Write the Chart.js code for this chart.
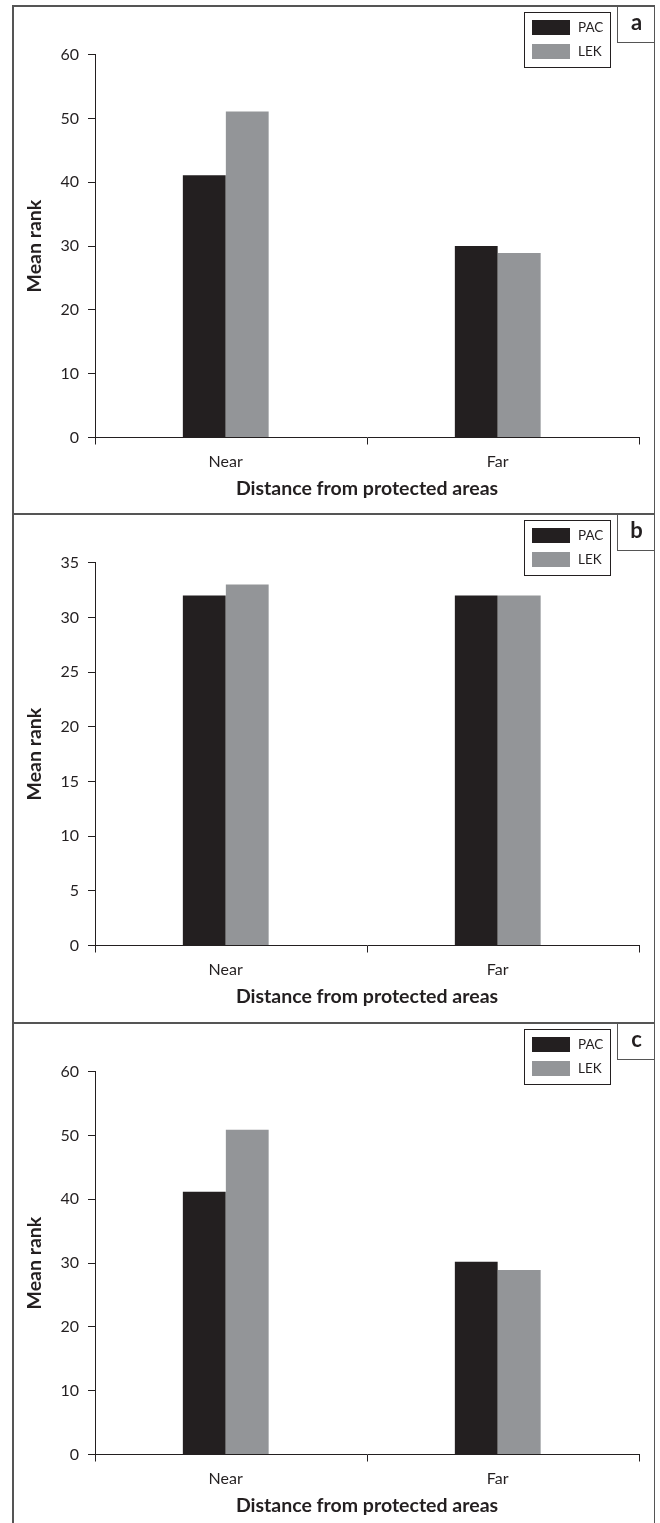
<!DOCTYPE html>
<html>
<head>
<meta charset="utf-8">
<script src="https://cdn.jsdelivr.net/npm/chart.js@4.4.1/dist/chart.umd.min.js"></script>
<style>
body{margin:0;background:#fff;font-family:Lato,sans-serif;color:#231f20;}
#fig{position:relative;width:660px;height:1523px;overflow:hidden;}
.cv{position:absolute;left:0;width:660px;height:508px;}
.line{position:absolute;background:#555;}
.legend{position:absolute;left:524px;width:85px;height:54px;border:1px solid #231f20;background:#fff;}
.legend .sw{position:absolute;left:7px;width:38px;height:15px;}
.legend .tx{position:absolute;left:53px;font-size:13.5px;line-height:15px;}
.tag{position:absolute;left:617px;width:37px;height:37px;border-left:1px solid #555;border-bottom:1px solid #555;background:#fff;
  font-weight:bold;font-size:22px;text-align:center;line-height:34px;}
</style>
</head>
<body>
<div id="fig"></div>
<script>
// data
const categories = ["Near", "Far"];
const seriesNames = ["PAC", "LEK"];
const seriesColors = ["#231f20", "#939598"];

const pacA = [41.1, 30.0];
const lekA = [51.1, 28.9];
const pacB = [32, 32];
const lekB = [33, 32];
const pacC = [41.2, 30.2];
const lekC = [50.9, 28.9];

const ticksA = [0, 10, 20, 30, 40, 50, 60];
const ticksB = [0, 5, 10, 15, 20, 25, 30, 35];
const ticksC = [0, 10, 20, 30, 40, 50, 60];

const panelLetters = ["a", "b", "c"];
const panelTops = [5, 513, 1022];

let fig = document.querySelector("#fig");

function addLine(x, y, w, h){
    let d = document.createElement("div");
    d.className = "line";
    d.style.left = x + "px"; d.style.top = y + "px";
    d.style.width = w + "px"; d.style.height = h + "px";
    fig.appendChild(d);
}

function makePanel(i, pac, lek, ticks){
    let top = panelTops[i];
    let cv = document.createElement("canvas");
    cv.className = "cv";
    cv.style.top = top + "px";
    cv.width = 660; cv.height = 508;
    fig.appendChild(cv);

    new Chart(cv, {
        type: "bar",
        data: {
            labels: categories,
            datasets: [
                // the original pair of bars sits a little left of the category centre,
                // so the two series get different slot sizes
                {label: seriesNames[0], data: pac, backgroundColor: seriesColors[0],
                    categoryPercentage: 0.3934, barPercentage: 0.8},
                {label: seriesNames[1], data: lek, backgroundColor: seriesColors[1],
                    categoryPercentage: 0.239, barPercentage: 1.317}
            ]
        },
        options: {
            responsive: false,
            animation: false,
            layout: {padding: {top: 49.7, right: 21, left: 0, bottom: 0}},
            plugins: {legend: {display: false}, tooltip: {enabled: false}},
            scales: {
                x: {
                    grid: {drawOnChartArea: false, tickLength: 7, color: "#231f20", offset: true},
                    border: {color: "#231f20", width: 1},
                    ticks: {color: "#231f20", font: {family: "Lato", size: 16}, padding: 8, labelOffset: -5.3},
                    title: {display: true, text: "Distance from protected areas", color: "#231f20",
                        font: {family: "Lato", size: 19.5, weight: "bold"}, padding: {bottom: 13}},
                    afterFit: (s) => { s.height = 75.5; }
                },
                y: {
                    min: ticks[0], max: ticks[ticks.length - 1],
                    afterBuildTicks: (s) => { s.ticks = ticks.map(v => ({value: v})); },
                    grid: {drawOnChartArea: false, tickLength: 7, color: "#231f20"},
                    border: {color: "#231f20", width: 1},
                    ticks: {color: "#231f20", font: {family: "Lato", size: 16}, padding: 9},
                    title: {display: true, text: "Mean rank", color: "#231f20",
                        font: {family: "Lato", size: 19.5, weight: "bold"}, padding: {top: 23}},
                    afterFit: (s) => { s.width = 95; }
                }
            }
        }
    });

    // legend box
    let lg = document.createElement("div");
    lg.className = "legend";
    lg.style.top = (top + 7) + "px";
    seriesNames.forEach((name, k) => {
        let sw = document.createElement("div");
        sw.className = "sw";
        sw.style.top = (7 + k * 24) + "px";
        sw.style.background = seriesColors[k];
        let tx = document.createElement("div");
        tx.className = "tx";
        tx.style.top = (7 + k * 24) + "px";
        tx.innerHTML = name;
        lg.appendChild(sw); lg.appendChild(tx);
    });
    fig.appendChild(lg);

    // panel letter
    let tag = document.createElement("div");
    tag.className = "tag";
    tag.style.top = top + "px";
    tag.innerHTML = panelLetters[i];
    fig.appendChild(tag);

    addLine(12, top, 643, 1.5);
}

makePanel(0, pacA, lekA, ticksA);
makePanel(1, pacB, lekB, ticksB);
makePanel(2, pacC, lekC, ticksC);

// outer frame sides
addLine(12, 5, 1.5, 1518);
addLine(653.5, 5, 1.5, 1518);
</script>
</body>
</html>
